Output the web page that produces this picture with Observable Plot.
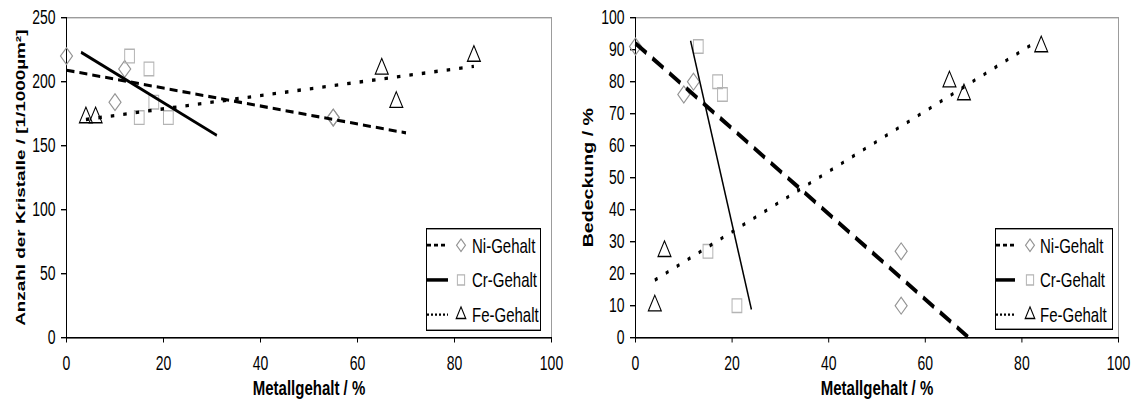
<!DOCTYPE html>
<html><head><meta charset="utf-8">
<script src="https://cdn.jsdelivr.net/npm/d3@7"></script>
<script src="https://cdn.jsdelivr.net/npm/@observablehq/plot@0.6"></script>
<style>
html,body{margin:0;padding:0;background:#fff;}
#stage{position:relative;width:1133px;height:404px;overflow:hidden;}
#stage > svg{position:absolute;top:0;}
</style></head><body><div id="stage"></div>
<script>
// ---- data ----
const seriesNames = ["Ni-Gehalt", "Cr-Gehalt", "Fe-Gehalt"];
const niGehalt = [0, 12, 10, 55, 55];
const crGehalt = [13, 17, 18, 15, 21];
const feGehalt = [84, 65, 68, 6, 4];
const kristallAnzahl = [220, 210, 184, 172, 172];
const bedeckung = [91, 80, 76, 27, 10];
// trend lines (start / end) per series, left panel
const trendLeftX1 = [0, 3, 4];
const trendLeftY1 = [209, 223, 170.5];
const trendLeftX2 = [70, 31, 84];
const trendLeftY2 = [160, 158, 212];
// trend lines, right panel
const trendRightX1 = [0, 11.4, 4];
const trendRightY1 = [92, 92.8, 18];
const trendRightX2 = [69, 24, 83];
const trendRightY2 = [0, 8.8, 92.5];
const xTicks = [0, 20, 40, 60, 80, 100];
const yTicksLeft = [0, 50, 100, 150, 200, 250];
const yTicksRight = [0, 10, 20, 30, 40, 50, 60, 70, 80, 90, 100];
const xLabel = "Metallgehalt / %";
const yLabelLeft = "Anzahl der Kristalle / [1/1000µm²]";
const yLabelRight = "Bedeckung / %";

// ---- build tables ----
const xs = [niGehalt, crGehalt, feGehalt];
function points(yvals) {
  const out = [];
  seriesNames.forEach((s, k) => xs[k].forEach((x, i) => out.push({series: s, x, y: yvals[i]})));
  return out;
}
function trends(x1, y1, x2, y2) {
  return seriesNames.map((s, k) => ({series: s, x1: x1[k], y1: y1[k], x2: x2[k], y2: y2[k]}));
}

const S = 1.4, H = 404, H0 = H / S;
const FONT = '"Liberation Sans", Arial, Helvetica, sans-serif';
const markerStyle = {
  "Ni-Gehalt": {symbol: "square", rotate: 45, r: 4.8, stroke: "#949494"},
  "Cr-Gehalt": {symbol: "square", rotate: 0, r: 5.5, stroke: "#b4b4b4"},
  "Fe-Gehalt": {symbol: "triangle", rotate: 0, r: 4.8, stroke: "#000"}
};

function addLegend(svgNode, cfg) {
  const w = cfg.width, h = cfg.height;
  const g = d3.select(svgNode).append("g").attr("transform", `translate(${cfg.left},${cfg.top})`);
  g.append("rect").attr("x", 0.5).attr("y", 0.5).attr("width", w - 1).attr("height", h - 1)
    .attr("fill", "#fff").attr("stroke", "#000").attr("stroke-width", 1);
  const rowY = [12.3, 37.1, 61.9];
  seriesNames.forEach((s, k) => {
    const ls = cfg.lineStyles[k];
    const m = markerStyle[s];
    g.append("line").attr("x1", 1).attr("x2", cfg.lineEnd).attr("y1", rowY[k]).attr("y2", rowY[k])
      .attr("stroke", "#000").attr("stroke-width", ls.w).attr("stroke-dasharray", ls.dash || null);
    const type = m.symbol === "triangle" ? d3.symbolTriangle : d3.symbolSquare;
    g.append("path").attr("d", d3.symbol(type, Math.PI * m.r * m.r * 0.55)())
      .attr("transform", `translate(${cfg.markerX},${rowY[k]}) rotate(${m.rotate})`)
      .attr("fill", "none").attr("stroke", m.stroke).attr("stroke-width", 1);
    g.append("text").attr("x", cfg.textX).attr("y", rowY[k]).attr("dy", "0.35em")
      .attr("text-anchor", "start")
      .attr("font-family", FONT).attr("font-size", 15).attr("fill", "#000").text(s);
  });
}

function panel(cfg) {
  const pts = points(cfg.yvals);
  const tr = trends(...cfg.trend);
  const marks = [
    Plot.frame({stroke: "#9c9c9c", strokeWidth: 1}),
    Plot.axisX({ticks: xTicks, tickSize: 4, tickPadding: 9, label: null, fontSize: 14}),
    Plot.axisY({ticks: cfg.yTicks, tickSize: 5, tickPadding: 6, label: null, fontSize: 14}),
    Plot.ruleX([0], {stroke: "#000", strokeWidth: 1}),
    Plot.ruleY([0], {stroke: "#000", strokeWidth: 1})
  ];
  seriesNames.forEach((s) => {
    const m = markerStyle[s];
    marks.push(Plot.dot(pts.filter(d => d.series === s), {
      x: "x", y: "y", symbol: m.symbol, rotate: m.rotate, r: m.r,
      stroke: m.stroke, fill: "none", strokeWidth: 1
    }));
  });
  seriesNames.forEach((s, k) => {
    const ls = cfg.lineStyles[k];
    marks.push(Plot.link(tr.filter(d => d.series === s), {
      x1: "x1", y1: "y1", x2: "x2", y2: "y2", stroke: "#000",
      strokeWidth: ls.w, strokeDasharray: ls.dash, strokeLinecap: "butt"
    }));
  });
  marks.push(Plot.text([cfg.ylabel], {text: d => d, frameAnchor: "left", textAnchor: "middle",
    dx: cfg.ylabelDx, rotate: -90, fontWeight: "bold", fontSize: cfg.ylabelSize, fill: "#000"}));
  marks.push(Plot.text([xLabel], {text: d => d, frameAnchor: "bottom", textAnchor: "middle", dy: 36.4,
    lineAnchor: "middle", fontWeight: "bold", fontSize: 15, fill: "#000"}));
  const svg = Plot.plot({
    width: cfg.width, height: H0,
    marginLeft: cfg.marginLeft, marginRight: 15, marginTop: 17 / S, marginBottom: H0 - 337 / S,
    x: {domain: [0, 100]},
    y: {domain: cfg.yDomain},
    style: {fontFamily: FONT, color: "#000", background: "transparent", overflow: "visible"},
    marks
  });
  addLegend(svg, cfg.legend);
  // stretch vertically like the reference image
  svg.setAttribute("viewBox", `0 0 ${cfg.width} ${H0}`);
  svg.setAttribute("preserveAspectRatio", "none");
  svg.setAttribute("width", cfg.width);
  svg.setAttribute("height", H);
  svg.style.width = cfg.width + "px";
  svg.style.height = H + "px";
  svg.style.maxWidth = "none";
  svg.style.left = cfg.left + "px";
  return svg;
}

const stage = document.getElementById("stage");
stage.appendChild(panel({
  left: 0, width: 566, marginLeft: 66, yDomain: [0, 250], yTicks: yTicksLeft,
  yvals: kristallAnzahl, trend: [trendLeftX1, trendLeftY1, trendLeftX2, trendLeftY2],
  ylabel: yLabelLeft, ylabelDx: -46, ylabelSize: 13.5,
  lineStyles: [{w: 2.2, dash: "8,5"}, {w: 2.2, dash: null}, {w: 2.4, dash: "3.5,9"}],
  legend: {left: 426, top: 228 / S, width: 115, height: 103 / S, lineEnd: 22, markerX: 35, textX: 46,
    lineStyles: [{w: 2, dash: "4,3"}, {w: 2.5, dash: null}, {w: 1.6, dash: "2,2"}]}
}));
stage.appendChild(panel({
  left: 566, width: 567, marginLeft: 69, yDomain: [0, 100], yTicks: yTicksRight,
  yvals: bedeckung, trend: [trendRightX1, trendRightY1, trendRightX2, trendRightY2],
  ylabel: yLabelRight, ylabelDx: -47, ylabelSize: 14,
  lineStyles: [{w: 3.2, dash: "13,7"}, {w: 1.5, dash: null}, {w: 2.4, dash: "3,9"}],
  legend: {left: 995 - 566, top: 228 / S, width: 118, height: 102 / S, lineEnd: 20, markerX: 35, textX: 45,
    lineStyles: [{w: 2, dash: "4,3"}, {w: 2.5, dash: null}, {w: 1.6, dash: "2,2"}]}
}));
</script></body></html>
